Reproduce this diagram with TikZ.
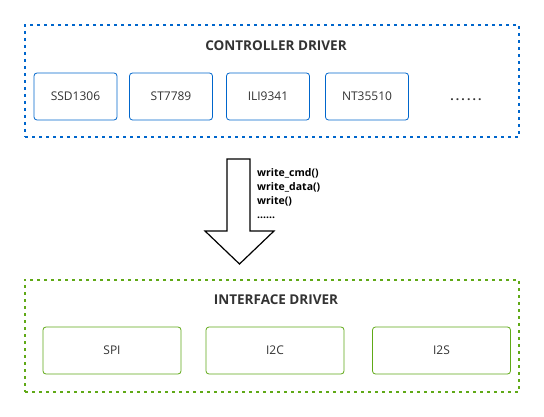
\documentclass[tikz,border=0pt]{standalone}
\usepackage{fontspec}
\setmainfont{Open Sans}
\usetikzlibrary{calc}

\definecolor{ctrlblue}{HTML}{0066CC}
\definecolor{ifgreen}{HTML}{60A917}
\definecolor{txtgray}{HTML}{333333}

\begin{document}
\begin{tikzpicture}[x=1pt, y=-1pt,
  groupbox/.style={draw, line width=2pt, dash pattern=on 3pt off 4pt, minimum width=494pt, minimum height=112pt, inner sep=0pt},
  grouptitle/.style={text=txtgray, font=\bfseries\fontsize{13.5}{15}\selectfont},
  chipbox/.style={draw=ctrlblue, line width=0.8pt, rounded corners=3pt, minimum width=83pt, minimum height=47pt, inner sep=0pt, text=txtgray, font=\fontsize{12}{14}\selectfont},
  busbox/.style={draw=ifgreen, line width=0.8pt, rounded corners=3pt, minimum width=138pt, minimum height=47pt, inner sep=0pt, text=txtgray, font=\fontsize{12}{14}\selectfont}]
\useasboundingbox [fill=white] (0, 0) rectangle (544, 417);

% controller driver
\node [groupbox, draw=ctrlblue] (ctrl) at (272, 81) {};
\node [grouptitle] (ctrltitle) at (276, 46) {CONTROLLER DRIVER};
\node [chipbox] (ssd) at (75.5, 96.5) {SSD1306};
\node [chipbox] (st) at (171, 96.5) {ST7789};
\node [chipbox] (ili) at (268, 96.5) {ILI9341};
\node [chipbox] (nt) at (367, 96.5) {NT35510};
\node [text=txtgray, font=\bfseries\fontsize{12}{14}\selectfont\addfontfeature{LetterSpace=18}] (more) at (466, 100) {......};

% interface driver
\node [groupbox, draw=ifgreen] (iface) at (272, 335.5) {};
\node [grouptitle] (ifacetitle) at (276, 300) {INTERFACE DRIVER};
\node [busbox] (spi) at (112, 350.5) {SPI};
\node [busbox] (iic) at (275, 350.5) {I2C};
\node [busbox] (iis) at (441.5, 350.5) {I2S};

% call arrow
\coordinate (top) at (238.5, 159);
\coordinate (tip) at (239.5, 264);
\draw [line width=1.2pt, fill=white, line join=miter]
  ($(top)+(-11.5,0)$) -- ($(top)+(11.5,0)$) -- ($(top)+(11.5,72)$) -- ($(top)+(35.5,72)$)
  -- (tip) -- ($(top)+(-33.5,72)$) -- ($(top)+(-11.5,72)$) -- cycle;
\node [anchor=north west, align=left, inner sep=0pt, font=\bfseries\fontsize{10.5}{14}\selectfont] (calls) at (257, 168)
  {write\_cmd()\\write\_data()\\write()\\......};
\end{tikzpicture}
\end{document}
